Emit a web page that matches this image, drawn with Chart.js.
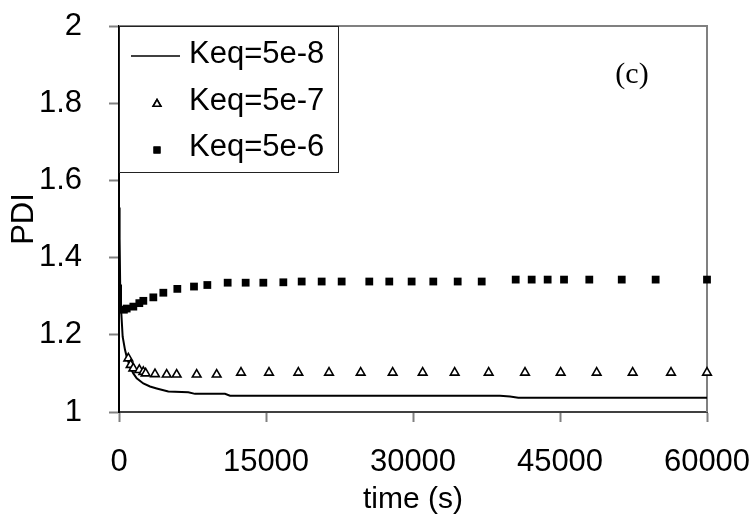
<!DOCTYPE html>
<html>
<head>
<meta charset="utf-8">
<script src="https://cdn.jsdelivr.net/npm/chart.js@4/dist/chart.umd.min.js"></script>
<style>
  html, body { margin: 0; padding: 0; background: #fff; }
  #wrap { width: 756px; height: 525px; }
</style>
</head>
<body>
<div id="wrap"><canvas id="c" width="756" height="525"></canvas></div>
<script>
// ---- Data ----
const seriesNames = ['Keq=5e-8', 'Keq=5e-7', 'Keq=5e-6'];

const timeKeq8 = [0, 60, 120, 204, 374, 612, 785, 1122, 1462, 1806, 2483, 3163, 3847, 5030, 7071, 7755, 10816, 11327, 38878, 39898, 40745, 60000];
const pdiKeq8  = [1.53, 1.45, 1.33, 1.27, 1.195, 1.161, 1.143, 1.117, 1.100, 1.087, 1.074, 1.066, 1.061, 1.053, 1.051, 1.047, 1.047, 1.042, 1.042, 1.040, 1.037, 1.037];

const timeKeq7 = [952, 1190, 1462, 2075, 2483, 2721, 3673, 4864, 5884, 7925, 9966, 12449, 15306, 18300, 21429, 24660, 27925, 30986, 34252, 37721, 41429, 45068, 48741, 52415, 56327, 60000];
const pdiKeq7  = [1.139, 1.122, 1.113, 1.109, 1.104, 1.100, 1.098, 1.097, 1.097, 1.097, 1.097, 1.102, 1.102, 1.102, 1.102, 1.102, 1.102, 1.102, 1.102, 1.102, 1.102, 1.102, 1.102, 1.102, 1.102, 1.102];

const timeKeq6 = [500, 785, 1462, 2075, 2483, 3503, 4524, 5952, 7653, 9014, 11088, 12925, 14728, 16769, 18640, 20680, 22720, 25540, 27580, 29860, 32070, 34560, 37010, 40480, 42110, 43740, 45410, 47990, 51300, 54760, 60000];
const pdiKeq6  = [1.265, 1.268, 1.273, 1.282, 1.288, 1.297, 1.309, 1.319, 1.325, 1.329, 1.335, 1.335, 1.335, 1.336, 1.338, 1.338, 1.338, 1.338, 1.338, 1.338, 1.338, 1.338, 1.338, 1.343, 1.343, 1.343, 1.343, 1.343, 1.343, 1.343, 1.343];

const xTickLabels = ['0', '15000', '30000', '45000', '60000'];
const yTickLabels = ['1', '1.2', '1.4', '1.6', '1.8', '2'];
const xTitle = 'time (s)';
const yTitle = 'PDI';
const panelLabel = '(c)';

// ---- Helpers ----
const zip = (xs, ys) => xs.map((x, i) => ({ x: x, y: ys[i] }));
const FONT = "'Liberation Sans', Arial, sans-serif";

const frame = {
  id: 'frame',
  beforeDatasetsDraw(chart) {
    const { ctx, chartArea: a } = chart;
    ctx.save();
    ctx.strokeStyle = '#808080';
    ctx.lineWidth = 2;
    ctx.beginPath();
    ctx.moveTo(a.left, a.top);
    ctx.lineTo(a.right, a.top);
    ctx.lineTo(a.right, a.bottom);
    ctx.stroke();
    ctx.restore();
  }
};

const boxLegend = {
  id: 'boxLegend',
  afterDatasetsDraw(chart) {
    const { ctx, chartArea: a } = chart;
    const ds = chart.data.datasets;
    const left = a.left, top = a.top, w = 219, h = 146;
    ctx.save();
    ctx.fillStyle = '#fff';
    ctx.fillRect(left, top, w, h);
    ctx.strokeStyle = '#222';
    ctx.lineWidth = 1;
    ctx.strokeRect(left + 0.5, top + 0.5, w, h);
    const rows = [top + 28, top + 75, top + 121];
    ctx.font = '31px ' + FONT;
    ctx.textBaseline = 'middle';
    ctx.textAlign = 'left';
    rows.forEach((ry, i) => {
      const d = ds[i];
      const cx = left + 38, cy = ry + 3;
      if (i === 0) {
        ctx.strokeStyle = '#000';
        ctx.lineWidth = 1.5;
        ctx.beginPath();
        ctx.moveTo(left + 12, ry + 2);
        ctx.lineTo(left + 61, ry + 2);
        ctx.stroke();
      } else {
        Chart.helpers.drawPoint(ctx, {
          pointStyle: d.pointStyle,
          radius: d.pointRadius - 0.5,
          borderWidth: d.pointBorderWidth,
          rotation: 0
        }, cx, cy);
        ctx.fillStyle = d.pointBackgroundColor;
        ctx.strokeStyle = d.pointBorderColor;
        ctx.lineWidth = d.pointBorderWidth;
        ctx.beginPath();
        const r = d.pointRadius - 0.5;
        if (d.pointStyle === 'triangle') {
          ctx.moveTo(cx, cy - r);
          ctx.lineTo(cx + r * Math.sin(2 * Math.PI / 3), cy - r * Math.cos(2 * Math.PI / 3));
          ctx.lineTo(cx + r * Math.sin(4 * Math.PI / 3), cy - r * Math.cos(4 * Math.PI / 3));
          ctx.closePath();
          ctx.fill();
          ctx.stroke();
        } else {
          const s = Math.SQRT1_2 * r;
          ctx.rect(cx - s, cy - s, 2 * s, 2 * s);
          ctx.fill();
        }
      }
      ctx.fillStyle = '#000';
      ctx.fillText(seriesNames[i], left + 70, ry);
    });
    // panel label
    ctx.font = "30px 'Liberation Serif', 'Times New Roman', serif";
    ctx.textAlign = 'center';
    ctx.fillText(panelLabel, 632, 75);
    ctx.restore();
  }
};

new Chart(document.getElementById('c'), {
  type: 'scatter',
  data: {
    datasets: [
      {
        label: seriesNames[0],
        data: zip(timeKeq8, pdiKeq8),
        showLine: true,
        borderColor: '#000',
        borderWidth: 2,
        pointRadius: 0,
        tension: 0,
        order: 3
      },
      {
        label: seriesNames[1],
        data: zip(timeKeq7, pdiKeq7),
        showLine: false,
        pointStyle: 'triangle',
        pointRadius: 5,
        pointBorderWidth: 1.6,
        pointBorderColor: '#000',
        pointBackgroundColor: '#fff',
        borderColor: '#000',
        backgroundColor: '#fff',
        order: 2
      },
      {
        label: seriesNames[2],
        data: zip(timeKeq6, pdiKeq6),
        showLine: false,
        pointStyle: 'rect',
        pointRadius: 5.5,
        pointBorderWidth: 0,
        pointBorderColor: '#000',
        pointBackgroundColor: '#000',
        borderColor: '#000',
        backgroundColor: '#000',
        order: 1
      }
    ]
  },
  options: {
    responsive: false,
    animation: false,
    clip: false,
    events: [],
    layout: { padding: { left: 0, right: 49, top: 26, bottom: 0 } },
    plugins: {
      legend: { display: false },
      tooltip: { enabled: false }
    },
    scales: {
      x: {
        type: 'linear',
        min: 0,
        max: 60000,
        afterBuildTicks: s => { s.ticks = xTickLabels.map(t => ({ value: Number(t) })); },
        ticks: {
          callback: (v) => xTickLabels.find(t => Number(t) === v) || '',
          color: '#000',
          font: { family: FONT, size: 31 },
          padding: 22,
          maxRotation: 0,
          autoSkip: false
        },
        grid: { display: true, drawOnChartArea: false, drawTicks: true, tickLength: 10, color: '#808080', tickWidth: 2 },
        border: { display: true, color: '#404040', width: 2 },
        title: { display: true, text: xTitle, color: '#000', font: { family: FONT, size: 30 }, padding: { top: 0, bottom: 7 } },
        afterFit: s => { s.height = 113; s.paddingLeft = 0; s.paddingRight = 0; }
      },
      y: {
        type: 'linear',
        min: 1,
        max: 2,
        afterBuildTicks: s => { s.ticks = yTickLabels.map(t => ({ value: Number(t) })); },
        ticks: {
          callback: (v) => yTickLabels.find(t => Math.abs(Number(t) - v) < 1e-9) || '',
          color: '#000',
          font: { family: FONT, size: 31 },
          padding: 27,
          autoSkip: false
        },
        grid: { display: true, drawOnChartArea: false, drawTicks: true, tickLength: 10, color: '#808080', tickWidth: 2 },
        border: { display: true, color: '#000', width: 2 },
        title: { display: true, text: yTitle, color: '#000', font: { family: FONT, size: 31 }, padding: { top: 6, bottom: 0 } },
        afterFit: s => { s.width = 119; s.paddingTop = 0; s.paddingBottom = 0; }
      }
    }
  },
  plugins: [frame, boxLegend]
});
</script>
</body>
</html>
